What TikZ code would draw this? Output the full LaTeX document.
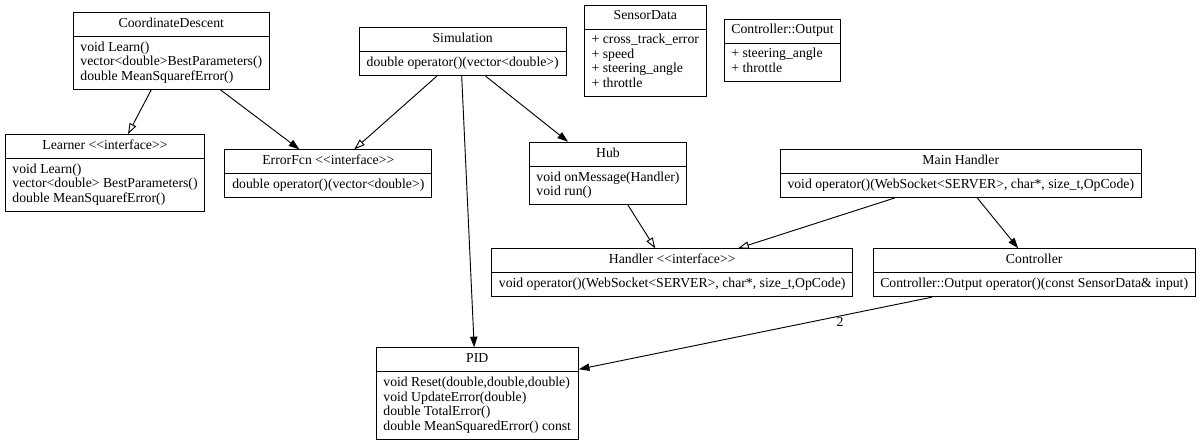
\documentclass[tikz,border=0pt]{standalone}
\usepackage{fontspec}
\setmainfont{Liberation Serif}[Ligatures=TeXOff]
\usepackage{tikz}
\usetikzlibrary{arrows.meta,shapes.multipart,calc}
\newcommand{\umlfont}{\fontsize{10.3}{10.9}\selectfont}
\newcommand{\members}[1]{\begin{tabular}{@{}l@{}}#1\end{tabular}}
\tikzset{
  classnode/.style={
    draw=black,
    rectangle split,
    rectangle split parts=2,
    rectangle split part align={center,left},
    font=\umlfont,
    inner xsep=5.5pt,
    inner ysep=3.2pt,
    line width=0.7pt,
    anchor=north
  },
  usearrow/.style={-{Triangle[length=8pt,width=5.5pt]},line width=0.7pt},
  implarrow/.style={-{Triangle[open,length=8pt,width=5.5pt,fill=white]},line width=0.7pt}
}

\begin{document}
\begin{tikzpicture}[x=0.75pt,y=-0.75pt]
  \useasboundingbox (0,0) rectangle (1200,444);
  % classes
  \node[classnode] (cd) at (171.3,11.7) {\strut CoordinateDescent
    \nodepart{two}\members{void Learn()\\vector<double>BestParameters()\\double MeanSquarefError()}};
  \node[classnode] (sim) at (462.7,27.3) {\strut Simulation
    \nodepart{two}\members{double operator()(vector<double>)}};
  \node[classnode] (sensor) at (645.3,4.5) {\strut SensorData
    \nodepart{two}\members{+ cross\_track\_error\\+ speed\\+ steering\_angle\\+ throttle}};
  \node[classnode] (ctrlout) at (782.5,18.5) {\strut Controller::Output
    \nodepart{two}\members{+ steering\_angle\\+ throttle}};
  \node[classnode] (learner) at (105,134) {\strut Learner <<interface>>
    \nodepart{two}\members{void Learn()\\vector<double> BestParameters()\\double MeanSquarefError()}};
  \node[classnode] (errfcn) at (328.3,149.3) {\strut ErrorFcn <<interface>>
    \nodepart{two}\members{double operator()(vector<double>)}};
  \node[classnode] (hub) at (608,141.7) {\strut Hub
    \nodepart{two}\members{void onMessage(Handler)\\void run()}};
  \node[classnode] (mainh) at (960.8,149) {\strut Main Handler
    \nodepart{two}\members{void operator()(WebSocket<SERVER>, char*, size\_t,OpCode)}};
  \node[classnode] (handler) at (672.2,248.3) {\strut Handler <<interface>>
    \nodepart{two}\members{void operator()(WebSocket<SERVER>, char*, size\_t,OpCode)}};
  \node[classnode] (ctrl) at (1034.2,248.3) {\strut Controller
    \nodepart{two}\members{Controller::Output operator()(const SensorData\& input)}};
  \node[classnode] (pid) at (477.2,347.3) {\strut PID
    \nodepart{two}\members{void Reset(double,double,double)\\void UpdateError(double)\\double TotalError()\\double MeanSquaredError() const}};
  % relations
  \draw[implarrow] ($(cd.south)+(-20,0)$) -- ($(learner.north)+(23,0)$);
  \draw[usearrow] ($(cd.south)+(49,0)$) -- ($(errfcn.north)+(-29,0)$);
  \draw[implarrow] ($(sim.south)+(-26,0)$) -- ($(errfcn.north)+(26,0)$);
  \draw[usearrow] ($(sim.south)+(-1,0)$) -- ($(pid.north)+(-3,0)$);
  \draw[usearrow] ($(sim.south)+(23,0)$) -- ($(hub.north)+(-40,0)$);
  \draw[implarrow] ($(hub.south)+(20,0)$) -- ($(handler.north)+(-17,0)$);
  \draw[implarrow] ($(mainh.south)+(-66,0)$) -- ($(handler.north)+(66,0)$);
  \draw[usearrow] ($(mainh.south)+(16.5,0)$) -- ($(ctrl.north)+(-16,0)$);
  \draw[usearrow] ($(ctrl.south)+(-102.5,0)$) -- node[pos=0.26,below,inner sep=1pt,font=\umlfont]{2} ($(pid.north east)+(0,22)$);
\end{tikzpicture}
\end{document}
